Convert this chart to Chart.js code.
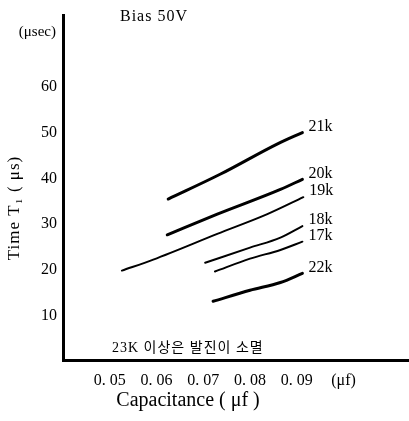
<!DOCTYPE html>
<html>
<head>
<meta charset="utf-8">
<script src="https://cdn.jsdelivr.net/npm/chart.js@4.4.1/dist/chart.umd.min.js"></script>
<style>
  html, body { margin: 0; padding: 0; background: #fff; }
  canvas { display: block; }
</style>
</head>
<body>
<canvas id="capChart" width="409" height="421"></canvas>
<script>
// time T1 (us) against capacitance (uF), one curve per frequency
var seriesNames = ['21k', '20k', '19k', '18k', '17k', '22k'];

var cap21 = [0.0625, 0.0736, 0.0860, 0.0912];
var time21 = [35.5, 40.9, 47.6, 50.0];
var cap20 = [0.0623, 0.0730, 0.0865, 0.0912];
var time20 = [27.7, 32.2, 37.6, 39.8];
var cap19 = [0.0526, 0.0593, 0.0730, 0.0837, 0.0914];
var time19 = [19.9, 22.3, 27.9, 32.2, 35.9];
var cap18 = [0.0704, 0.0800, 0.0865, 0.0912];
var time18 = [21.6, 24.9, 27.1, 29.6];
var cap17 = [0.0725, 0.0800, 0.0865, 0.0912];
var time17 = [19.7, 22.5, 24.4, 26.2];
var cap22 = [0.0721, 0.0800, 0.0865, 0.0912];
var time22 = [13.2, 15.6, 17.3, 19.3];

var xTicks = [0.05, 0.06, 0.07, 0.08, 0.09, 0.10];
var xTickLabels = ['0. 05', '0. 06', '0. 07', '0. 08', '0. 09', '(\u03bcf)'];
var yTicks = [10, 20, 30, 40, 50, 60];

var serif = '"Liberation Serif", "DejaVu Serif", serif';

function pts(c, t) {
    return c.map(function (x, i) { return { x: x, y: t[i] }; });
}

function line(name, c, t, w) {
    return {
        label: name,
        data: pts(c, t),
        borderColor: '#000',
        borderWidth: w,
        pointRadius: 0,
        cubicInterpolationMode: 'monotone',
        borderCapStyle: 'round',
        fill: false
    };
}

// labels at the end of each curve plus the free texts of the figure
var textPlugin = {
    id: 'texts',
    afterDraw: function (chart) {
        var ctx = chart.ctx;
        ctx.save();
        ctx.fillStyle = '#000';
        ctx.textBaseline = 'middle';
        ctx.textAlign = 'left';
        ctx.font = '16px ' + serif;
        chart.data.datasets.forEach(function (ds, i) {
            var pts = chart.getDatasetMeta(i).data;
            var last = pts[pts.length - 1];
            ctx.fillText(ds.label, last.x + 6, last.y - 6);
        });

        ctx.letterSpacing = '1px';
        ctx.fillText('Bias 50V', 120, 17);
        ctx.letterSpacing = '0px';

        ctx.font = '15px ' + serif;
        ctx.textAlign = 'right';
        ctx.fillText('(\u03bcsec)', 56, 32);

        ctx.textAlign = 'left';
        ctx.font = '14px ' + serif + ', "Noto Sans CJK KR"';
        ctx.letterSpacing = '1px';
        ctx.fillText('23K 이상은 발진이 소멸', 112, 348);

        ctx.letterSpacing = '0px';
        ctx.textAlign = 'center';
        ctx.font = '20px ' + serif;
        ctx.fillText('Capacitance ( \u03bcf )', 188, 401);

        ctx.translate(15, 208);
        ctx.rotate(-Math.PI / 2);
        ctx.font = '17px ' + serif;
        ctx.letterSpacing = '1px';
        ctx.fillText('Time T\u2081 ( \u03bcs)', 0, 0);
        ctx.restore();
    }
};

var ctx = document.getElementById('capChart').getContext('2d');
var myChart = new Chart(ctx, {
    type: 'line',
    data: {
        datasets: [
            line(seriesNames[0], cap21, time21, 3),
            line(seriesNames[1], cap20, time20, 3),
            line(seriesNames[2], cap19, time19, 2),
            line(seriesNames[3], cap18, time18, 2),
            line(seriesNames[4], cap17, time17, 2),
            line(seriesNames[5], cap22, time22, 3)
        ]
    },
    options: {
        responsive: false,
        devicePixelRatio: 1,
        animation: false,
        layout: { padding: { top: 13, left: 0, right: 0, bottom: 0 } },
        plugins: {
            legend: { display: false },
            tooltip: { enabled: false }
        },
        scales: {
            x: {
                type: 'linear',
                min: 0.04,
                max: 0.114,
                grid: { display: false, drawTicks: false },
                border: { display: true, color: '#000', width: 3 },
                afterBuildTicks: function (scale) {
                    scale.ticks = xTicks.map(function (v) { return { value: v }; });
                },
                afterFit: function (scale) { scale.height = 61; },
                ticks: {
                    color: '#000',
                    padding: 11,
                    maxRotation: 0,
                    autoSkip: false,
                    font: { family: serif, size: 16 },
                    callback: function (v) {
                        var i = xTicks.findIndex(function (t) { return Math.abs(t - v) < 1e-6; });
                        return i >= 0 ? xTickLabels[i] : '';
                    }
                }
            },
            y: {
                min: 0.4,
                max: 75.5,
                grid: { display: false, drawTicks: false },
                border: { display: true, color: '#000', width: 3 },
                afterBuildTicks: function (scale) {
                    scale.ticks = yTicks.map(function (v) { return { value: v }; });
                },
                afterFit: function (scale) { scale.width = 63; },
                ticks: {
                    color: '#000',
                    padding: 6,
                    font: { family: serif, size: 16 }
                }
            }
        }
    },
    plugins: [textPlugin]
});
</script>
</body>
</html>
